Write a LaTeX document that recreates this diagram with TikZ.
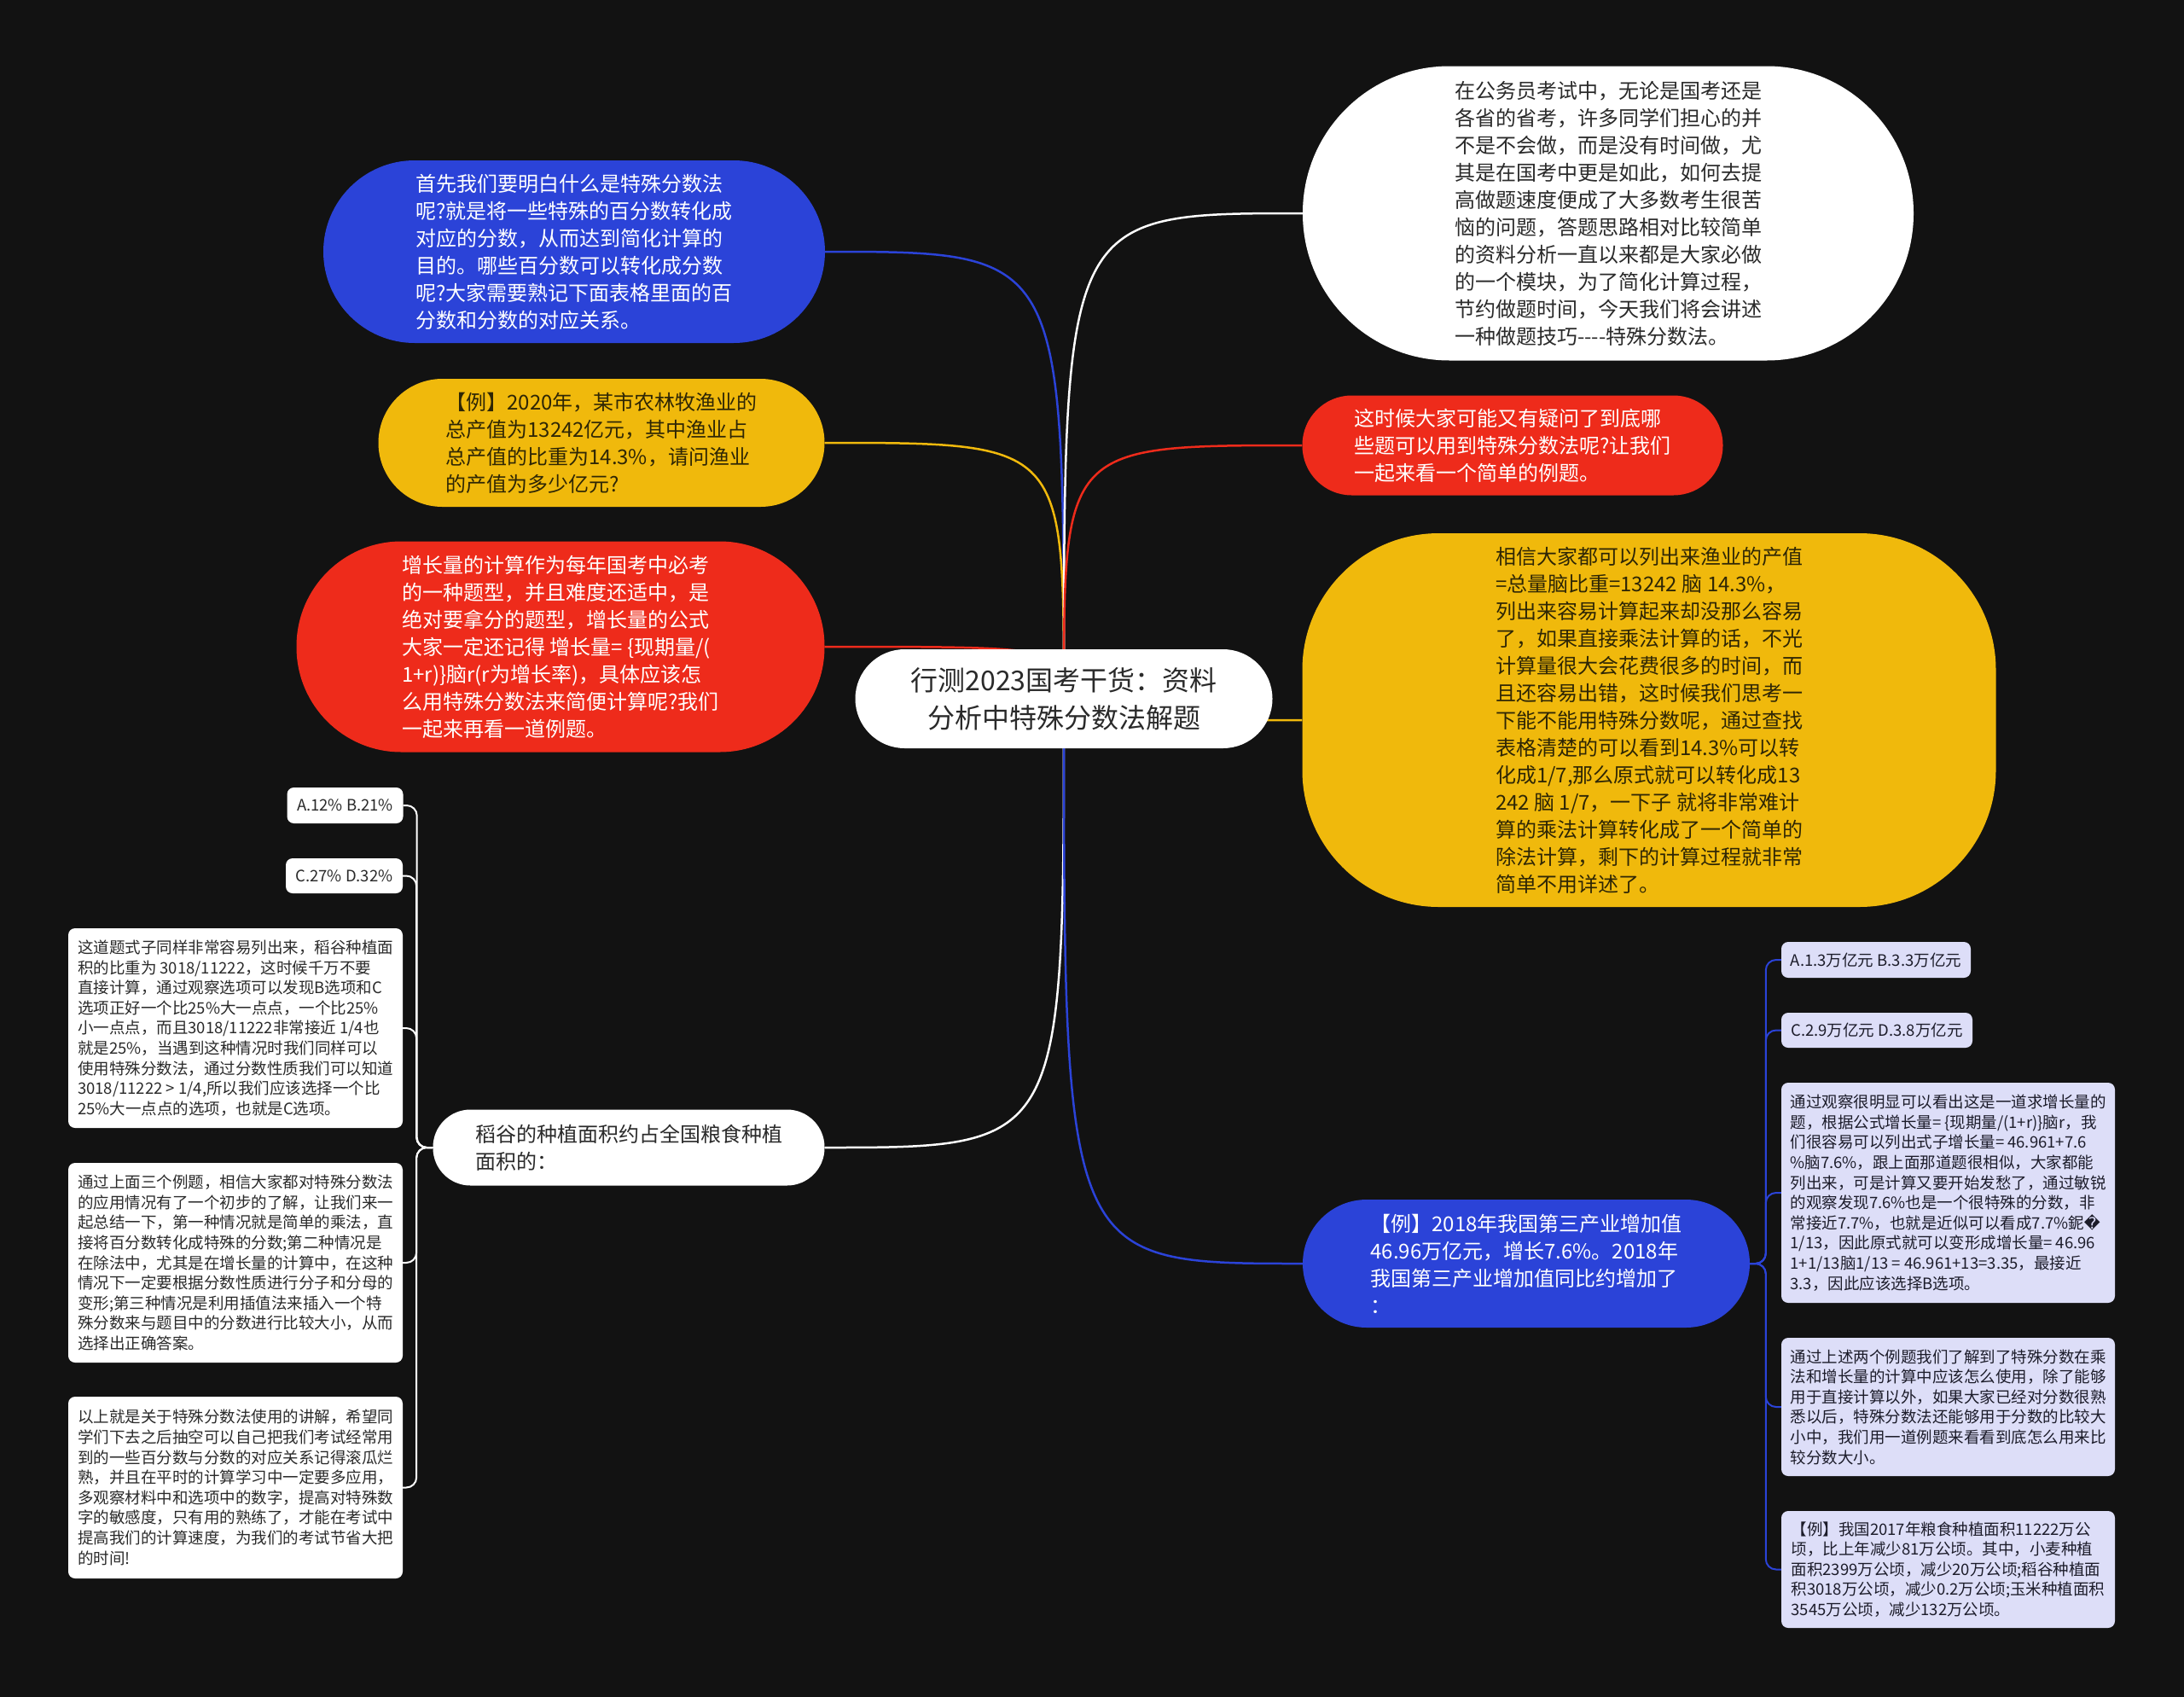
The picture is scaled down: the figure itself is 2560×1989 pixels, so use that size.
\documentclass[tikz,border=0pt]{standalone}
\usepackage{fontspec}
\setmainfont{Noto Sans CJK SC}
\newfontfamily\djv{DejaVu Sans}
\usetikzlibrary{backgrounds}
\definecolor{bgc}{HTML}{121212}
\definecolor{cblue}{HTML}{2B43D8}
\definecolor{cyel}{HTML}{F0B90C}
\definecolor{cred}{HTML}{EE2B1B}
\definecolor{lav}{HTML}{DDDEF8}
\definecolor{txtd}{HTML}{2A2A2A}
\definecolor{txtn}{HTML}{1C1C2A}
\definecolor{txty}{HTML}{2E2605}
\begin{document}
\begin{tikzpicture}[x=1pt,y=-1pt,
  conn/.style={line width=2.5pt},
  big/.style={inner sep=0pt, align=left, font=\fontsize{24pt}{32pt}\selectfont},
  leafl/.style={fill=white, text=txtd, rounded corners=8pt, inner sep=0pt, align=left, font=\fontsize{18.5pt}{23.6pt}\selectfont},
  leafr/.style={fill=lav, text=txtn, rounded corners=8pt, inner sep=0pt, align=left, font=\fontsize{18.5pt}{23.6pt}\selectfont},
]
\useasboundingbox (0,0) rectangle (2560,1989);

% root
\node[big, fill=white, text=txtd, minimum width=489pt, minimum height=116pt, rounded corners=58pt, align=center, font=\fontsize{32pt}{44pt}\selectfont] (root) at (1247,819) {行测2023国考干货：资料\\分析中特殊分数法解题};

% left main nodes
\node[big, fill=cblue, text=white, minimum width=588pt, minimum height=214pt, rounded corners=107pt] (blueL) at (673,295) {首先我们要明白什么是特殊分数法\\呢?就是将一些特殊的百分数转化成\\对应的分数，从而达到简化计算的\\目的。哪些百分数可以转化成分数\\呢?大家需要熟记下面表格里面的百\\分数和分数的对应关系。};

\node[big, fill=cyel, text=txty, minimum width=523pt, minimum height=150pt, rounded corners=75pt] (yelL) at (705,519) {【例】2020年，某市农林牧渔业的\\总产值为13242亿元，其中渔业占\\总产值的比重为14.3\%，请问渔业\\的产值为多少亿元?};

\node[big, fill=cred, text=white, minimum width=619pt, minimum height=247pt, rounded corners=123pt] (redL) at (657,758) {增长量的计算作为每年国考中必考\\的一种题型，并且难度还适中，是\\绝对要拿分的题型，增长量的公式\\大家一定还记得 增长量= \{现期量/(\\1+r)\}脑r(r为增长率)，具体应该怎\\么用特殊分数法来简便计算呢?我们\\一起来再看一道例题。};

\node[big, fill=white, text=txtd, minimum width=459pt, minimum height=89pt, rounded corners=44pt] (dao) at (737,1345) {稻谷的种植面积约占全国粮食种植\\面积的：};

% right main nodes
\node[big, fill=white, text=txtd, minimum width=716pt, minimum height=345pt, rounded corners=172pt] (whiteR) at (1885,250) {在公务员考试中，无论是国考还是\\各省的省考，许多同学们担心的并\\不是不会做，而是没有时间做，尤\\其是在国考中更是如此，如何去提\\高做题速度便成了大多数考生很苦\\恼的问题，答题思路相对比较简单\\的资料分析一直以来都是大家必做\\的一个模块，为了简化计算过程，\\节约做题时间，今天我们将会讲述\\一种做题技巧-{}-{}-{}-特殊分数法。};

\node[big, fill=cred, text=white, minimum width=493pt, minimum height=117pt, rounded corners=58pt] (redR) at (1773,522) {这时候大家可能又有疑问了到底哪\\些题可以用到特殊分数法呢?让我们\\一起来看一个简单的例题。};

\node[big, fill=cyel, text=txty, minimum width=813pt, minimum height=438pt, rounded corners=160pt] (yelR) at (1933,844) {相信大家都可以列出来渔业的产值\\=总量脑比重=13242 脑 14.3\%，\\列出来容易计算起来却没那么容易\\了，如果直接乘法计算的话，不光\\计算量很大会花费很多的时间，而\\且还容易出错，这时候我们思考一\\下能不能用特殊分数呢，通过查找\\表格清楚的可以看到14.3\%可以转\\化成1/7,那么原式就可以转化成13\\242 脑 1/7，一下子 就将非常难计\\算的乘法计算转化成了一个简单的\\除法计算，剩下的计算过程就非常\\简单不用详述了。};

\node[big, fill=cblue, text=white, minimum width=524pt, minimum height=150pt, rounded corners=75pt] (blueR) at (1789,1481) {【例】2018年我国第三产业增加值\\46.96万亿元，增长7.6\%。2018年\\我国第三产业增加值同比约增加了\\：};

% left leaves
\node[leafl, minimum width=136pt, minimum height=42pt] (la) at (404.5,944) {A.12\% B.21\%};
\node[leafl, minimum width=137pt, minimum height=41pt] (lc) at (403.5,1026.5) {C.27\% D.32\%};
\node[leafl, minimum width=392pt, minimum height=234pt] (l1) at (276,1205) {这道题式子同样非常容易列出来，稻谷种植面\\积的比重为 3018/11222，这时候千万不要\\直接计算，通过观察选项可以发现B选项和C\\选项正好一个比25\%大一点点，一个比25\%\\小一点点，而且3018/11222非常接近 1/4也\\就是25\%，当遇到这种情况时我们同样可以\\使用特殊分数法，通过分数性质我们可以知道\\3018/11222 > 1/4,所以我们应该选择一个比\\25\%大一点点的选项，也就是C选项。};
\node[leafl, minimum width=392pt, minimum height=234pt] (l2) at (276,1480) {通过上面三个例题，相信大家都对特殊分数法\\的应用情况有了一个初步的了解，让我们来一\\起总结一下，第一种情况就是简单的乘法，直\\接将百分数转化成特殊的分数;第二种情况是\\在除法中，尤其是在增长量的计算中，在这种\\情况下一定要根据分数性质进行分子和分母的\\变形;第三种情况是利用插值法来插入一个特\\殊分数来与题目中的分数进行比较大小，从而\\选择出正确答案。};
\node[leafl, minimum width=392pt, minimum height=213pt] (l3) at (276,1743.5) {以上就是关于特殊分数法使用的讲解，希望同\\学们下去之后抽空可以自己把我们考试经常用\\到的一些百分数与分数的对应关系记得滚瓜烂\\熟，并且在平时的计算学习中一定要多应用，\\多观察材料中和选项中的数字，提高对特殊数\\字的敏感度，只有用的熟练了，才能在考试中\\提高我们的计算速度，为我们的考试节省大把\\的时间!};

% right leaves
\node[leafr, minimum width=222pt, minimum height=42pt] (ra) at (2199,1125) {A.1.3万亿元 B.3.3万亿元};
\node[leafr, minimum width=224pt, minimum height=41pt] (rc) at (2200,1207.5) {C.2.9万亿元 D.3.8万亿元};
\node[leafr, minimum width=391pt, minimum height=258pt] (r1) at (2283.5,1398) {通过观察很明显可以看出这是一道求增长量的\\题，根据公式增长量= \{现期量/(1+r)\}脑r，我\\们很容易可以列出式子增长量= 46.961+7.6\\\%脑7.6\%，跟上面那道题很相似，大家都能\\列出来，可是计算又要开始发愁了，通过敏锐\\的观察发现7.6\%也是一个很特殊的分数，非\\常接近7.7\%，也就是近似可以看成7.7\%鈮{\djv �}\\1/13，因此原式就可以变形成增长量= 46.96\\1+1/13脑1/13 = 46.961+13=3.35，最接近\\3.3，因此应该选择B选项。};
\node[leafr, minimum width=391pt, minimum height=162pt] (r2) at (2283.5,1649) {通过上述两个例题我们了解到了特殊分数在乘\\法和增长量的计算中应该怎么使用，除了能够\\用于直接计算以外，如果大家已经对分数很熟\\悉以后，特殊分数法还能够用于分数的比较大\\小中，我们用一道例题来看看到底怎么用来比\\较分数大小。};
\node[leafr, minimum width=391pt, minimum height=137pt] (r3) at (2283.5,1839.5) {【例】我国2017年粮食种植面积11222万公\\顷，比上年减少81万公顷。其中，小麦种植\\面积2399万公顷，减少20万公顷;稻谷种植面\\积3018万公顷，减少0.2万公顷;玉米种植面积\\3545万公顷，减少132万公顷。};

\begin{pgfonlayer}{background}
\fill[bgc] (0,0) rectangle (2560,1989);
% root connectors
\draw[conn, cblue] (root.center) .. controls (root.center |- blueL.east) .. (blueL.east);
\draw[conn, cyel] (root.center) .. controls (root.center |- yelL.east) .. (yelL.east);
\draw[conn, cred] (root.center) .. controls (root.center |- redL.east) .. (redL.east);
\draw[conn, white] (root.center) .. controls (root.center |- dao.east) .. (dao.east);
\draw[conn, white] (root.center) .. controls (root.center |- whiteR.west) .. (whiteR.west);
\draw[conn, cred] (root.center) .. controls (root.center |- redR.west) .. (redR.west);
\draw[conn, cyel] (root.center) .. controls (root.center |- yelR.west) .. (yelR.west);
\draw[conn, cblue] (root.center) .. controls (root.center |- blueR.west) .. (blueR.west);
% left leaf connectors
\foreach \n in {la,lc,l1,l2,l3}
  \draw[line width=2pt, white, rounded corners=12pt] (dao.west) -| ([xshift=16pt]\n.east) -- (\n.east);
% right leaf connectors
\foreach \n in {ra,rc,r1,r2,r3}
  \draw[line width=2pt, cblue, rounded corners=12pt] (blueR.east) -| ([xshift=-18pt]\n.west) -- (\n.west);
\end{pgfonlayer}
\end{tikzpicture}
\end{document}
